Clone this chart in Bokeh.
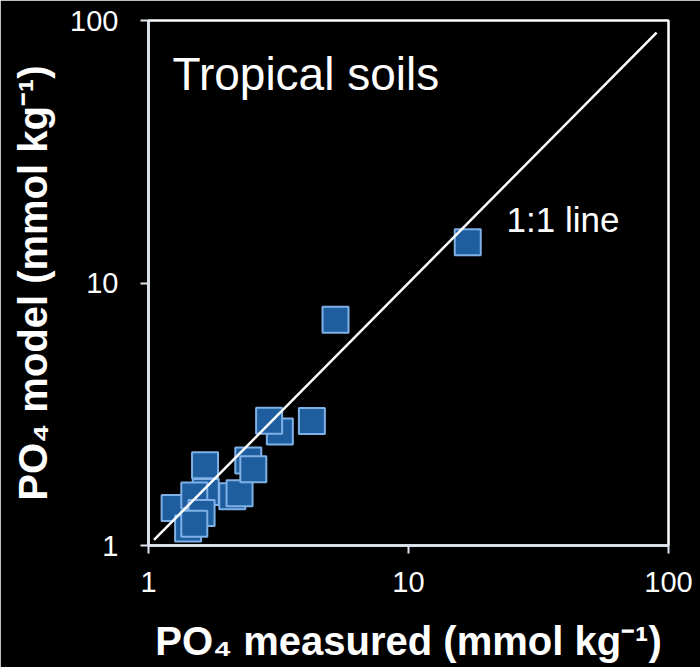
from bokeh.plotting import figure
from bokeh.models import Label, FixedTicker, PrintfTickFormatter, ColumnDataSource
from bokeh.embed import file_html
from bokeh.resources import INLINE

# Data: PO4 measured vs model (mmol kg-1), tropical soils (drawing order)
measured = [1.66, 1.65, 1.26, 1.50, 1.60, 1.42, 1.50, 2.10, 2.24, 2.42, 2.53, 3.20, 2.91, 4.25, 5.24, 16.9]
modelled = [1.60, 2.02, 1.39, 1.55, 1.33, 1.16, 1.21, 1.54, 1.58, 2.11, 1.95, 2.72, 2.99, 2.98, 7.24, 14.3]
one_to_one = [1.05, 90.0]
tick_values = [1, 10, 100]
x_title = "PO\u2084 measured (mmol kg\u207b\u00b9)"
y_title = "PO\u2084 model (mmol kg\u207b\u00b9)"

FONT = "Liberation Sans"

p = figure(width=700, height=667, x_axis_type="log", y_axis_type="log",
           x_range=(1, 100), y_range=(1, 100),
           output_backend="svg", toolbar_location=None,
           background_fill_color="black", border_fill_color="black",
           min_border_left=148, min_border_right=32,
           min_border_top=20, min_border_bottom=122)

p.grid.visible = False
p.outline_line_color = "white"
p.outline_line_width = 2.5
p.outline_line_alpha = 1.0

for ax in list(p.xaxis) + list(p.yaxis):
    ax.ticker = FixedTicker(ticks=tick_values, minor_ticks=[])
    ax.formatter = PrintfTickFormatter(format="%d")
    ax.major_label_text_color = "white"
    ax.major_label_text_font = FONT
    ax.major_label_text_font_size = "29px"
    ax.axis_line_color = "#dfe5f0"
    ax.axis_line_width = 2.5
    ax.major_tick_line_color = "#dfe5f0"
    ax.major_tick_line_width = 2
    ax.major_tick_out = 8
    ax.major_tick_in = 0
    ax.minor_tick_out = 0
    ax.minor_tick_in = 0
    ax.axis_label_text_color = "white"
    ax.axis_label_text_font = FONT
    ax.axis_label_text_font_size = "40px"
    ax.axis_label_text_font_style = "bold"

p.xaxis.major_label_standoff = 18
p.yaxis.major_label_standoff = 22

p.yaxis.axis_label = y_title
p.yaxis.axis_label_standoff = 12

p.xaxis.axis_label = x_title
p.xaxis.axis_label_standoff = 24

src = ColumnDataSource(dict(x=measured, y=modelled))
p.scatter("x", "y", source=src, marker="square", size=26,
          fill_color="#1f5e9e", line_color="#7fb1e6", line_width=2)

p.line(one_to_one, one_to_one, line_color="white", line_width=2.5)

def lab(text, x, y, size):
    p.add_layout(Label(x=x, y=y, x_units="screen", y_units="screen", text=text,
                       text_color="white", text_font=FONT, text_font_size=size,
                       text_align="left", text_baseline="alphabetic"))

lab("Tropical soils", 24, 472, "46px")
lab("1:1 line", 358, 326, "35px")

open("out.html", "w").write(file_html(p, INLINE))
